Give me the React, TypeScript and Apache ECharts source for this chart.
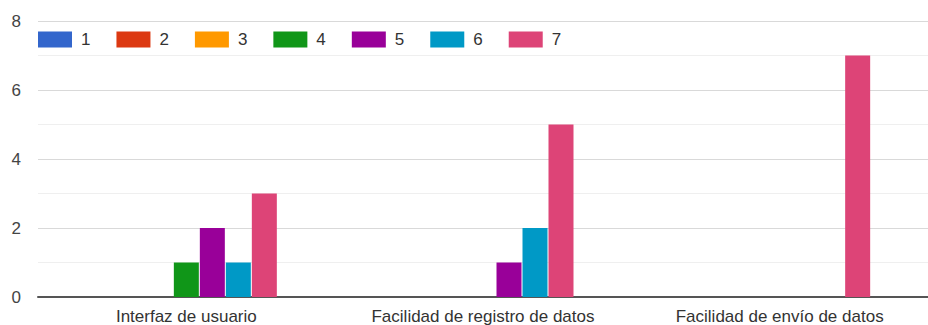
import React, { useEffect, useRef } from "react";
import * as echarts from "echarts";

const categories = ["Interfaz de usuario", "Facilidad de registro de datos", "Facilidad de envío de datos"];
const seriesNames = ["1", "2", "3", "4", "5", "6", "7"];
const s1 = [0, 0, 0];
const s2 = [0, 0, 0];
const s3 = [0, 0, 0];
const s4 = [1, 0, 0];
const s5 = [2, 1, 0];
const s6 = [1, 2, 0];
const s7 = [3, 5, 7];
const seriesValues = [s1, s2, s3, s4, s5, s6, s7];
const colors = ["#3366cc", "#dc3912", "#ff9900", "#109618", "#990099", "#0099c6", "#dd4477"];
const yTicks = [0, 2, 4, 6, 8];

export default function App() {
  const ref = useRef<HTMLDivElement>(null);
  useEffect(() => {
    if (!ref.current) return;
    const chart = echarts.init(ref.current, null, { renderer: "svg" });
    chart.setOption({
      animation: false,
      color: colors,
      textStyle: { fontFamily: "'Liberation Sans', Arial, sans-serif" },
      legend: {
        data: seriesNames,
        left: 38,
        top: 31,
        padding: 0,
        itemWidth: 34,
        itemHeight: 16,
        itemGap: 26,
        icon: "rect",
        textStyle: { fontSize: 17, color: "#333", padding: [0, 0, 0, 4] },
      },
      grid: { left: 38, right: 0, top: 21, bottom: 28, containLabel: false },
      xAxis: {
        type: "category",
        data: categories,
        axisTick: { show: false },
        axisLine: { lineStyle: { color: "#555", width: 2 } },
        axisLabel: { fontSize: 17, color: "#333", margin: 11 },
      },
      yAxis: {
        type: "value",
        min: yTicks[0],
        max: yTicks[yTicks.length - 1],
        interval: 2,
        axisLabel: { fontSize: 17, color: "#444", margin: 17 },
        splitLine: { lineStyle: { color: "#d9d9d9", width: 1 } },
        minorTick: { show: false, splitNumber: 2 },
        minorSplitLine: { show: true, lineStyle: { color: "#efefef", width: 1 } },
      },
      series: seriesNames.map((n, i) => ({
        name: n,
        type: "bar",
        data: seriesValues[i],
        barWidth: 25,
        barGap: "4%",
      })),
    });
    return () => chart.dispose();
  }, []);
  return <div ref={ref} style={{ position: "fixed", left: 0, top: 0, width: 928, height: 325, background: "#fff" }} />;
}
